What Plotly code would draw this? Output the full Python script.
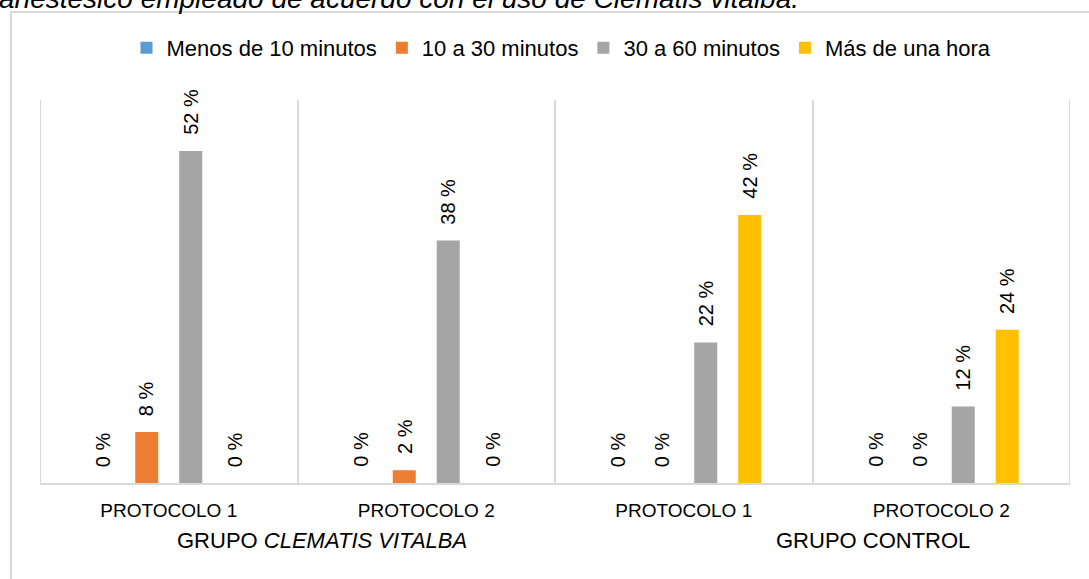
import plotly.graph_objects as go

# ---- data ----
categories = ["Clematis P1", "Clematis P2", "Control P1", "Control P2"]
tick_labels = ["PROTOCOLO 1", "PROTOCOLO 2", "PROTOCOLO 1", "PROTOCOLO 2"]
group_labels = ["GRUPO <i>CLEMATIS VITALBA</i>", "GRUPO CONTROL"]
series_names = ["Menos de 10 minutos", "10 a 30 minutos", "30 a 60 minutos", "Más de una hora"]
menos_10 = [0, 0, 0, 0]
de_10_a_30 = [8, 2, 0, 0]
de_30_a_60 = [52, 38, 22, 12]
mas_de_hora = [0, 0, 42, 24]
series_values = [menos_10, de_10_a_30, de_30_a_60, mas_de_hora]
title_text = "anestésico empleado de acuerdo con el uso de Clematis vitalba."

# ---- style ----
colors = ["#5B9BD5", "#ED7D31", "#A5A5A5", "#FFC000"]
W, H = 1089, 579
ML, MR, MT, MB = 40, 19, 100, 96
BARGAP, BARGROUPGAP = 0.3165, 0.477
FONT = "Liberation Sans, Arial, sans-serif"
GRID = "#D9D9D9"

fig = go.Figure()
for name, vals, col in zip(series_names, series_values, colors):
    fig.add_trace(go.Bar(x=categories, y=vals, name=name, marker_color=col,
                         marker_line_width=0))

plot_w = W - ML - MR
plot_h = H - MT - MB
slot = plot_w / len(categories) * (1 - BARGAP) / len(series_names)
n = len(series_names)

annotations = []
for j, vals in enumerate(series_values):
    for i, v in enumerate(vals):
        annotations.append(dict(
            x=categories[i], y=v, xref="x", yref="y",
            text=f"{v} %", showarrow=False, textangle=-90,
            xshift=(j - (n - 1) / 2) * slot, yshift=14,
            yanchor="bottom", xanchor="center",
            font=dict(family=FONT, size=20, color="#000000")))

def px_to_paper_x(px):
    return (px - ML) / plot_w

def py_to_paper_y(py):
    return (H - MB - py) / plot_h

annotations.append(dict(x=px_to_paper_x(321.5), y=py_to_paper_y(540), xref="paper", yref="paper",
                        text=group_labels[0], showarrow=False, xanchor="center", yanchor="middle",
                        font=dict(family=FONT, size=22, color="#000000")))
annotations.append(dict(x=px_to_paper_x(873), y=py_to_paper_y(540), xref="paper", yref="paper",
                        text=group_labels[1], showarrow=False, xanchor="center", yanchor="middle",
                        font=dict(family=FONT, size=22, color="#000000")))
annotations.append(dict(x=px_to_paper_x(-3), y=py_to_paper_y(-1), xref="paper", yref="paper",
                        text=f"<i>{title_text}</i>", showarrow=False, xanchor="left", yanchor="middle",
                        font=dict(family=FONT, size=28, color="#000000")))

shapes = [dict(type="rect", xref="paper", yref="paper",
               x0=px_to_paper_x(11), x1=px_to_paper_x(1200),
               y0=py_to_paper_y(700), y1=py_to_paper_y(12),
               line=dict(color=GRID, width=2), fillcolor="rgba(0,0,0,0)", layer="below")]
# outer category boundaries (left and right ends of the category axis)
for xb in (-0.5, len(categories) - 0.5):
    shapes.append(dict(type="line", xref="x", yref="paper", x0=xb, x1=xb, y0=0, y1=1,
                       line=dict(color=GRID, width=2), layer="below"))

fig.update_layout(
    width=W, height=H,
    margin=dict(l=ML, r=MR, t=MT, b=MB, pad=0),
    paper_bgcolor="white", plot_bgcolor="white",
    barmode="group", bargap=BARGAP, bargroupgap=BARGROUPGAP,
    font=dict(family=FONT, color="#000000"),
    showlegend=True,
    legend=dict(orientation="h", x=px_to_paper_x(561.5), xanchor="center",
                y=py_to_paper_y(48), yanchor="middle",
                font=dict(family=FONT, size=22, color="#000000"),
                bgcolor="rgba(0,0,0,0)"),
    annotations=annotations,
    shapes=shapes,
)
fig.update_xaxes(type="category", tickson="boundaries", tickvals=categories, ticktext=tick_labels,
                 showgrid=True, gridcolor=GRID, gridwidth=2,
                 showline=True, linecolor=GRID, linewidth=2, ticks="",
                 tickfont=dict(family=FONT, size=19, color="#000000"),
                 ticklabelstandoff=9, range=[-0.5, 3.5], fixedrange=True)
fig.update_yaxes(range=[0, 60], showgrid=False, zeroline=False, showticklabels=False,
                 showline=False, ticks="", fixedrange=True)

fig.write_html("out.html")
